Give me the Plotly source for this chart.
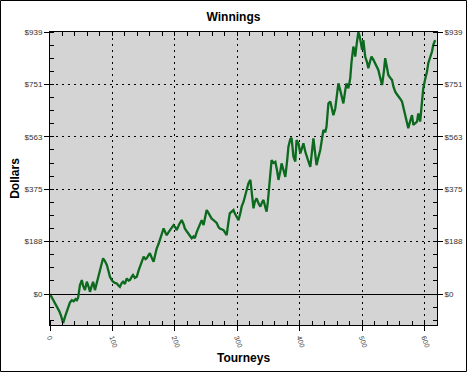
import plotly.graph_objects as go

tourneys = [0, 3, 6, 9, 12, 15, 18, 21, 24, 27, 29, 32, 35, 38, 41, 43, 45, 48, 51, 53,
            56, 59, 62, 64, 67, 69, 72, 75, 77, 80, 83, 85, 88, 91, 94, 96, 99, 101, 104, 107,
            110, 112, 115, 117, 120, 123, 126, 128, 131, 133, 136, 139, 142, 144, 147, 150, 153, 155, 158, 160,
            163, 166, 169, 171, 174, 176, 179, 182, 185, 187, 190, 192, 195, 198, 201, 203, 207, 211, 214, 216,
            219, 222, 225, 227, 230, 232, 235, 238, 241, 243, 246, 249, 251, 254, 256, 259, 262, 265, 267, 270,
            272, 275, 278, 281, 283, 286, 288, 291, 294, 296, 299, 302, 305, 307, 310, 312, 315, 318, 321, 323,
            326, 328, 331, 334, 337, 340, 342, 345, 347, 349, 351, 353, 355, 358, 361, 364, 366, 369, 371, 374,
            377, 380, 382, 385, 387, 390, 393, 395, 398, 401, 403, 406, 409, 411, 414, 417, 420, 422, 425, 427,
            430, 433, 436, 438, 441, 443, 446, 449, 451, 454, 457, 459, 462, 465, 467, 470, 473, 475, 478, 481,
            483, 485, 486, 488, 489, 491, 493, 494, 496, 498, 500, 502, 504, 505, 508, 510, 513, 515, 518, 521,
            524, 526, 529, 532, 535, 537, 540, 542, 545, 548, 550, 553, 556, 558, 561, 564, 567, 569, 572, 574,
            577, 580, 582, 585, 588, 590, 593, 596, 598, 601, 604, 606, 609, 612, 614, 617]
winnings = [0, -12, -22, -35, -45, -62, -80, -104, -82, -60, -50, -30, -22, -26, -18, -22, -14, 32, 50, 30,
            14, 44, 25, 8, 30, 44, 14, 40, 62, 86, 110, 128, 118, 104, 80, 62, 50, 44, 40, 38,
            30, 26, 40, 44, 36, 56, 48, 50, 62, 68, 58, 62, 85, 98, 120, 134, 125, 128, 140, 146,
            130, 116, 145, 164, 180, 194, 215, 235, 220, 211, 222, 229, 240, 247, 238, 229, 250, 265, 250, 235,
            225, 217, 205, 200, 206, 200, 222, 241, 255, 265, 247, 280, 301, 290, 283, 270, 265, 258, 255, 240,
            235, 232, 229, 218, 211, 260, 289, 295, 301, 289, 278, 265, 290, 313, 330, 349, 375, 397, 409, 373,
            307, 330, 343, 325, 313, 330, 337, 310, 295, 330, 373, 430, 480, 470, 474, 440, 409, 440, 468, 445,
            420, 480, 528, 555, 560, 492, 475, 552, 540, 504, 520, 540, 510, 492, 475, 456, 520, 558, 500, 462,
            490, 516, 560, 588, 580, 600, 683, 690, 671, 641, 665, 695, 755, 730, 713, 683, 730, 755, 737, 773,
            830, 863, 887, 870, 851, 890, 920, 939, 925, 900, 875, 910, 880, 850, 830, 809, 835, 851, 840, 827,
            815, 803, 775, 749, 800, 845, 810, 785, 775, 767, 745, 725, 715, 707, 700, 689, 660, 635, 610, 594,
            620, 641, 606, 612, 618, 647, 618, 690, 737, 770, 797, 827, 845, 869, 892, 910]

y_tickvals = [0, 187.8, 375.6, 563.4, 751.2, 939]
y_ticktext = ["$0", "$188", "$375", "$563", "$751", "$939"]
x_tickvals = [0, 100, 200, 300, 400, 500, 600]
x_ticktext = ["0", "100", "200", "300", "400", "500", "600"]

FONT = "Liberation Sans, Arial, sans-serif"
XR = [0, 620]
YR = [-111, 939]
GRIDDASH = "2px,4px"

fig = go.Figure()
fig.add_trace(go.Scatter(x=tourneys, y=winnings, mode="lines",
                         line=dict(color="#0b6a1d", width=2.3),
                         showlegend=False, hoverinfo="skip"))
fig.add_trace(go.Scatter(x=tourneys, y=winnings, mode="lines", xaxis="x2", yaxis="y2",
                         line=dict(color="rgba(0,0,0,0)", width=0),
                         showlegend=False, hoverinfo="skip"))

tickfont = dict(family=FONT, size=8, color="#333333")

fig.update_layout(
    width=467, height=372,
    margin=dict(l=50, r=30, t=32, b=47),
    paper_bgcolor="white",
    plot_bgcolor="#d4d4d4",
    title=dict(text="<b>Winnings</b>", x=0.5, xref="container", xanchor="center",
               y=1 - 17 / 372, yref="container", yanchor="middle", automargin=False,
               font=dict(family=FONT, size=12, color="black")),
    xaxis=dict(range=XR, tickmode="array", tickvals=x_tickvals, ticktext=x_ticktext,
               tickangle=70, tickfont=dict(family=FONT, size=7, color="#333333"),
               ticks="outside", ticklen=5, tickcolor="black", automargin=False,
               minor=dict(dtick=20, tick0=0, ticks="inside", ticklen=4, tickcolor="black", showgrid=False),
               showgrid=True, gridcolor="black", griddash=GRIDDASH, gridwidth=1,
               showline=True, linecolor="black", linewidth=1, zeroline=False,
               title=dict(text="<b>Tourneys</b>", font=dict(family=FONT, size=12, color="black"), standoff=6)),
    xaxis2=dict(range=XR, overlaying="x", side="top", showticklabels=False, automargin=False,
                tickmode="array", tickvals=x_tickvals,
                ticks="inside", ticklen=4, tickcolor="black",
                minor=dict(dtick=20, tick0=0, ticks="inside", ticklen=4, tickcolor="black", showgrid=False),
                showgrid=False, showline=True, linecolor="black", linewidth=1, zeroline=False),
    yaxis=dict(range=YR, tickmode="array", tickvals=y_tickvals, ticktext=y_ticktext,
               tickfont=tickfont, ticks="outside", ticklen=5, tickcolor="black", automargin=False,
               minor=dict(dtick=46.95, tick0=0, ticks="inside", ticklen=4, tickcolor="black", showgrid=False),
               showgrid=True, gridcolor="black", griddash=GRIDDASH, gridwidth=1,
               zeroline=True, zerolinecolor="black", zerolinewidth=1,
               showline=True, linecolor="black", linewidth=1,
               title=dict(text="<b>Dollars</b>", font=dict(family=FONT, size=12, color="black"), standoff=2)),
    yaxis2=dict(range=YR, overlaying="y", side="right", tickmode="array", automargin=False,
                tickvals=y_tickvals, ticktext=y_ticktext, tickfont=tickfont,
                ticks="outside", ticklen=5, tickcolor="black",
                minor=dict(dtick=46.95, tick0=0, ticks="inside", ticklen=4, tickcolor="black", showgrid=False),
                showgrid=False, zeroline=False, showline=True, linecolor="black", linewidth=1),
)

# outer border around the whole image (plot area spans pixels x 50..437, y 32..325)
fig.add_shape(type="rect", xref="paper", yref="paper",
              x0=(0.5 - 50) / 387, x1=(466.5 - 50) / 387,
              y0=(325 - 371.5) / 293, y1=(325 - 0.5) / 293,
              line=dict(color="black", width=1), fillcolor="rgba(0,0,0,0)", layer="above")

fig.write_html("out.html")
